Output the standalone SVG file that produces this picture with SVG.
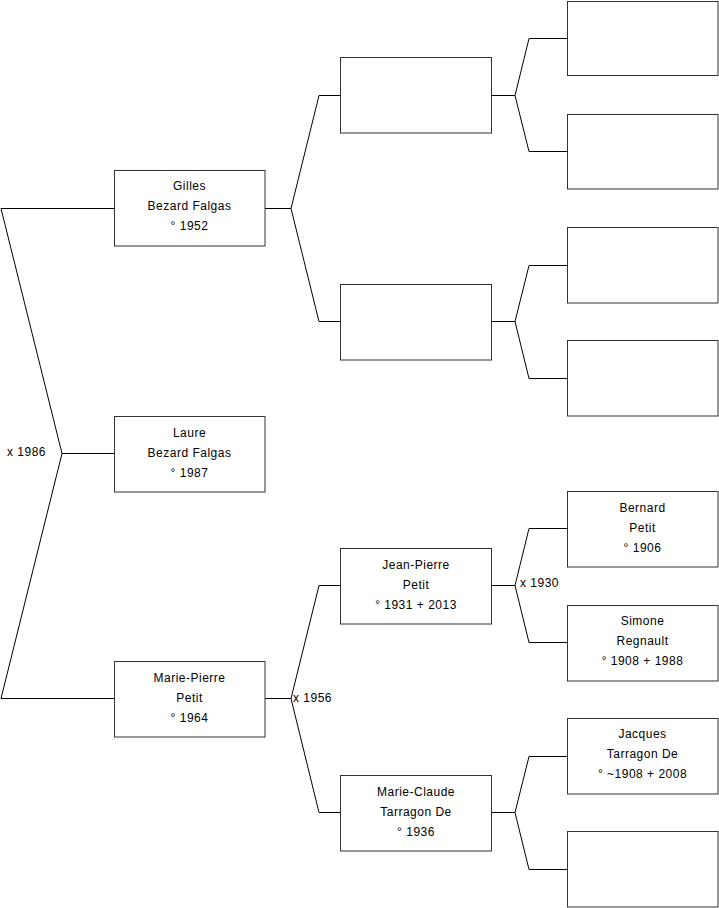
<svg xmlns="http://www.w3.org/2000/svg" width="719" height="908" viewBox="0 0 719 908">
<style>
.box{fill:#fff;stroke:#333;stroke-width:1}
.c{fill:none;stroke:#000;stroke-width:1}
text{font-family:"Liberation Sans",Arial,sans-serif;font-size:12px;fill:#000;letter-spacing:0.5px}
.t{text-anchor:middle}
</style>
<rect width="719" height="908" fill="#fff"/>
<g id="connectors">
<polyline class="c" points="114,208.5 1,208.5 62,453.5 1,698.5 114,698.5"/>
<line class="c" x1="62" y1="453.5" x2="114" y2="453.5"/>
<polyline class="c" points="341,95.5 319,95.5 291,208.5 319,321.5 341,321.5"/>
<line class="c" x1="265" y1="208.5" x2="291" y2="208.5"/>
<polyline class="c" points="341,585.5 319,585.5 291,698.5 319,812.5 341,812.5"/>
<line class="c" x1="265" y1="698.5" x2="291" y2="698.5"/>
<polyline class="c" points="567,38.5 529,38.5 515,95.5 529,151.5 567,151.5"/>
<line class="c" x1="491" y1="95.5" x2="515" y2="95.5"/>
<polyline class="c" points="567,265.5 529,265.5 515,321.5 529,378.5 567,378.5"/>
<line class="c" x1="491" y1="321.5" x2="515" y2="321.5"/>
<polyline class="c" points="567,528.5 529,528.5 515,585.5 529,642.5 567,642.5"/>
<line class="c" x1="491" y1="585.5" x2="515" y2="585.5"/>
<polyline class="c" points="567,756.5 529,756.5 515,812.5 529,869.5 567,869.5"/>
<line class="c" x1="491" y1="812.5" x2="515" y2="812.5"/>
<text x="7" y="456">x 1986</text>
<text x="293" y="702">x 1956</text>
<text x="520" y="587">x 1930</text>
</g>
<g id="gilles"><rect class="box" x="114.5" y="170.5" width="150.5" height="75.5"/>
<text class="t" x="189.5" y="190">Gilles</text><text class="t" x="189.5" y="210">Bezard Falgas</text><text class="t" x="189.5" y="230">° 1952</text></g>
<g id="laure"><rect class="box" x="114.5" y="416.5" width="150.5" height="75.5"/>
<text class="t" x="189.5" y="437">Laure</text><text class="t" x="189.5" y="457">Bezard Falgas</text><text class="t" x="189.5" y="477">° 1987</text></g>
<g id="marie-pierre"><rect class="box" x="114.5" y="661.5" width="150.5" height="75.5"/>
<text class="t" x="189.5" y="682">Marie-Pierre</text><text class="t" x="189.5" y="702">Petit</text><text class="t" x="189.5" y="722">° 1964</text></g>
<g id="f-father"><rect class="box" x="340.5" y="57.5" width="151" height="75.5"/></g>
<g id="f-mother"><rect class="box" x="340.5" y="284.5" width="151" height="75.5"/></g>
<g id="jean-pierre"><rect class="box" x="340.5" y="548.5" width="151" height="75.5"/>
<text class="t" x="416" y="569">Jean-Pierre</text><text class="t" x="416" y="589">Petit</text><text class="t" x="416" y="609">° 1931 + 2013</text></g>
<g id="marie-claude"><rect class="box" x="340.5" y="775.5" width="151" height="75.5"/>
<text class="t" x="416" y="796">Marie-Claude</text><text class="t" x="416" y="816">Tarragon De</text><text class="t" x="416" y="836">° 1936</text></g>
<g id="ff"><rect class="box" x="567.5" y="1.5" width="150.5" height="74"/></g>
<g id="fm"><rect class="box" x="567.5" y="114.5" width="150.5" height="74.5"/></g>
<g id="mf"><rect class="box" x="567.5" y="227.5" width="150.5" height="75.5"/></g>
<g id="mm"><rect class="box" x="567.5" y="340.5" width="150.5" height="75.5"/></g>
<g id="bernard"><rect class="box" x="567.5" y="491.5" width="150.5" height="75.5"/>
<text class="t" x="642.5" y="512">Bernard</text><text class="t" x="642.5" y="532">Petit</text><text class="t" x="642.5" y="552">° 1906</text></g>
<g id="simone"><rect class="box" x="567.5" y="605.5" width="150.5" height="75.5"/>
<text class="t" x="642.5" y="625">Simone</text><text class="t" x="642.5" y="645">Regnault</text><text class="t" x="642.5" y="665">° 1908 + 1988</text></g>
<g id="jacques"><rect class="box" x="567.5" y="718.5" width="150.5" height="75.5"/>
<text class="t" x="642.5" y="738">Jacques</text><text class="t" x="642.5" y="758">Tarragon De</text><text class="t" x="642.5" y="778">° ~1908 + 2008</text></g>
<g id="unknown"><rect class="box" x="567.5" y="831.5" width="150.5" height="75.5"/></g>
</svg>
